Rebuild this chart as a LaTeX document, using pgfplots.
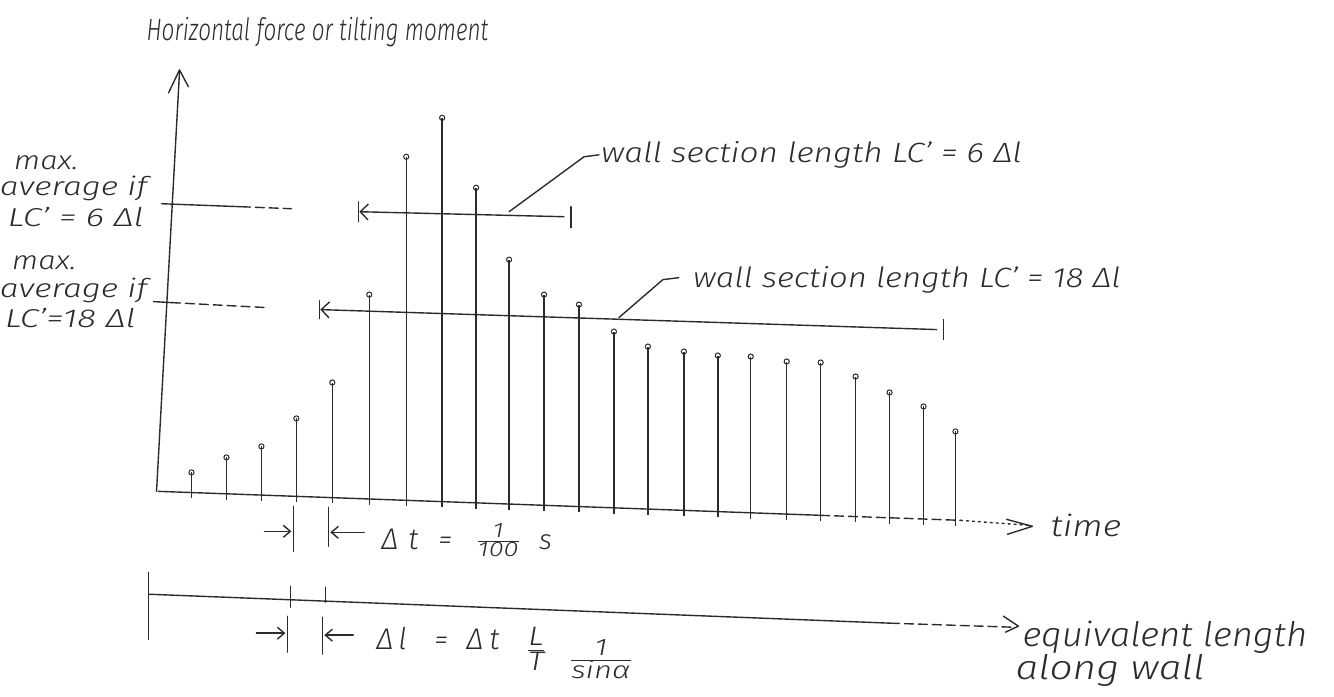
\documentclass[border=0pt]{standalone}
\usepackage{pgfplots}
\pgfplotsset{compat=1.18}
\usepackage{pgfplotstable}
\usepackage{fontspec}
\setmainfont{Fira Sans Light}[ItalicFont={Fira Sans Light Italic}]
\usetikzlibrary{arrows.meta}
\definecolor{ink}{HTML}{2B2B2B}
\newcommand\hf[2]{\begin{tabular}{@{}c@{}}#1\\[-3pt]\hline\noalign{\vskip0pt}#2\end{tabular}}
\tikzset{
  hw/.style={font=\fontsize{28}{30}\selectfont\itshape, text=ink, inner sep=0pt, anchor=base west},
  fr/.style={font=\fontsize{21}{22}\selectfont\itshape, text=ink, inner sep=0pt},
  pen/.style={draw=ink, line width=1.4pt, line cap=round, line join=round},
  hdash/.style={pen, dash pattern=on 9pt off 5pt},
  hdot/.style={pen, dash pattern=on 2pt off 4pt},
}
% stem position (px), top of stem, length of stem down to below the base line
\pgfplotstableread{
x   top  len
190 473  26
225 458  43
260 447  55
295 419  84
331 383  121
368 295  211
405 157  350
441 118  390
475 188  322
508 260  251
543 295  217
578 305  208
613 332  183
647 347  169
683 352  165
717 356  162
750 357  163
786 362  159
820 363  159
855 377  146
889 393  132
923 407  119
955 432  95
}\stems
\begin{document}
\begin{tikzpicture}
\begin{axis}[width=1334bp, height=697bp, scale only axis,
  xmin=0, xmax=1334, ymin=0, ymax=697, y dir=reverse,
  axis lines=none, clip=false]
\path (0,0) rectangle (1334,697);
% stems
\addplot[only marks, mark=o, mark size=2.6pt,
  mark options={draw=ink, fill=white, line width=1pt},
  error bars/.cd, y dir=plus, y explicit, error mark=none,
  error bar style={draw=ink, line width=1.4pt}]
  table[x=x, y=top, y error plus=len] {\stems};
% axes
\draw[pen] (155,492) -- (178,72);
\draw[pen] (167,93) -- (178,70) -- (187,87);
\draw[pen] (157,492) -- (820,516);
\draw[hdash] (820,516) -- (960,521);
\draw[hdot] (960,521) -- (1028,526);
\draw[pen] (1006,520) -- (1032,527) -- (1007,535);
\node[hw, font=\fontsize{30}{32}\selectfont\itshape, xscale=1.2] at (1050,537) {time};
% title
\node[hw, font=\fontsize{31}{33}\selectfont\itshape, xscale=0.73] at (145,41) {Horizontal force or tilting moment};
% average levels
\draw[pen] (160,204) -- (240,207);
\draw[hdash] (240,207) -- (290,209);
\draw[pen] (152,302) -- (170,303);
\draw[hdash] (170,303) -- (265,308);
\node[hw, font=\fontsize{26}{27}\selectfont\itshape, xscale=1.2] at (12,170) {max.};
\node[hw, font=\fontsize{26}{27}\selectfont\itshape, xscale=1.3] at (-2,196) {average if};
\node[hw, font=\fontsize{26}{27}\selectfont\itshape, xscale=1.35] at (6,227) {LC' = 6 Δl};
\node[hw, font=\fontsize{26}{27}\selectfont\itshape, xscale=1.2] at (10,270) {max.};
\node[hw, font=\fontsize{26}{27}\selectfont\itshape, xscale=1.3] at (-2,298) {average if};
\node[hw, font=\fontsize{26}{27}\selectfont\itshape, xscale=1.35] at (3,328) {LC'=18 Δl};
% wall section 6 dl
\draw[pen, -{Triangle[open, length=9pt, width=12pt]}, {Straight Barb[length=8pt, width=16pt]}-] (358,212) -- (563,217);
\draw[pen] (357,202) -- (357,222);
\draw[pen] (570,207) -- (570,228);
\draw[pen] (508,212) -- (583,157) -- (598,155);
\node[hw, xscale=1.2] at (600,163) {wall section length LC' = 6 Δl};
% wall section 18 dl
\draw[pen, -{Triangle[open, length=9pt, width=12pt]}, {Straight Barb[length=8pt, width=16pt]}-] (319,310) -- (936,330);
\draw[pen] (318,301) -- (318,319);
\draw[pen] (943,320) -- (943,340);
\draw[pen] (618,318) -- (662,280) -- (678,278);
\node[hw, xscale=1.18] at (692,288) {wall section length LC' = 18 Δl};
% delta t
\draw[pen] (292,507) -- (292,552);
\draw[pen] (327,508) -- (327,547);
\draw[pen, -{Straight Barb[length=7pt, width=12pt]}] (263,532) -- (290,532);
\draw[pen, -{Straight Barb[length=7pt, width=12pt]}] (363,533) -- (329,533);
\node[hw, font=\fontsize{30}{32}\selectfont\itshape] at (380,550) {Δ\hspace{10pt}t};
\node[hw] at (437,550) {=};
\node[fr, xscale=1.3] at (497,543) {\hf{1}{100}};
\node[hw] at (538,550) {s};
% equivalent length axis
\draw[pen] (147,573) -- (147,640);
\draw[pen] (147,595) -- (890,624);
\draw[hdash] (890,624) -- (1012,628);
\draw[pen] (1003,617) -- (1018,627) -- (1005,633);
\draw[pen] (289,587) -- (289,608);
\draw[pen] (324,588) -- (324,603);
\node[hw, font=\fontsize{34}{36}\selectfont\itshape, xscale=1.08] at (1022,647) {equivalent length};
\node[hw, font=\fontsize{34}{36}\selectfont\itshape, xscale=1.2] at (1015,680) {along wall};
% delta l
\draw[pen] (286,617) -- (286,653);
\draw[pen] (321,618) -- (321,655);
\draw[pen, -{Straight Barb[length=7pt, width=12pt]}] (255,634) -- (284,634);
\draw[pen, -{Straight Barb[length=7pt, width=12pt]}] (352,636) -- (323,636);
\node[hw, font=\fontsize{30}{32}\selectfont\itshape] at (375,650) {Δ\hspace{5pt}l};
\node[hw] at (433,650) {=};
\node[hw, font=\fontsize{30}{32}\selectfont\itshape] at (465,650) {Δ\hspace{6pt}t};
\node[fr, font=\fontsize{27}{28}\selectfont\itshape, xscale=1.2] at (535,653) {\hf{L}{T}};
\node[fr, font=\fontsize{24}{25}\selectfont\itshape, xscale=1.3] at (600,663) {\hf{1}{sinα}};
\end{axis}
\end{tikzpicture}
\end{document}
